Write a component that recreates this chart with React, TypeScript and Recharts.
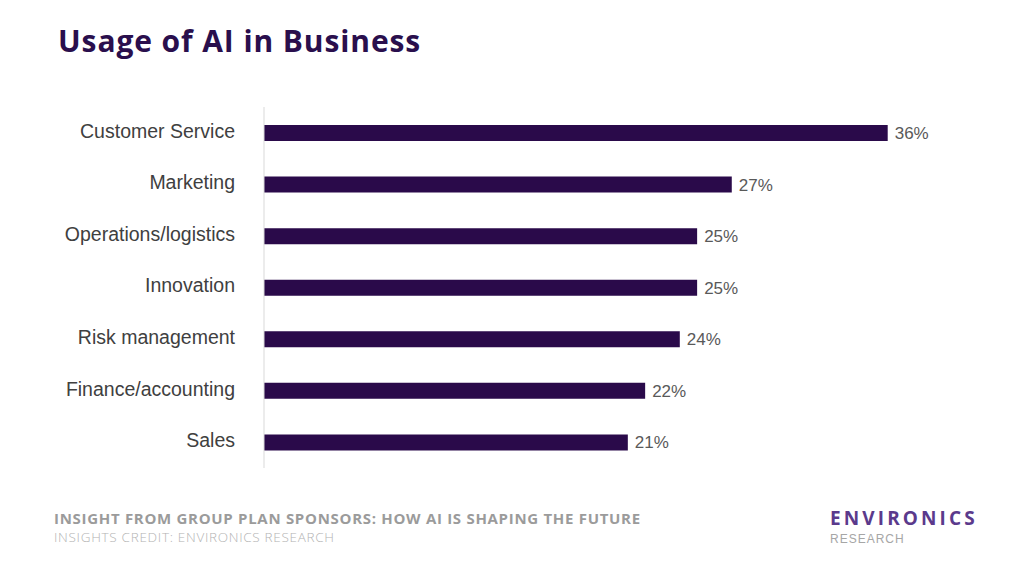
import { BarChart, Bar, XAxis, YAxis, LabelList } from "recharts";

const categories = [
  "Customer Service",
  "Marketing",
  "Operations/logistics",
  "Innovation",
  "Risk management",
  "Finance/accounting",
  "Sales",
];
const usage = [36, 27, 25, 25, 24, 22, 21];

const data = categories.map((name, i) => ({ name, value: usage[i] }));

const CategoryTick = (props: any) => {
  const { x, y, payload } = props;
  return (
    <text
      x={x}
      y={y - 2}
      dy="0.355em"
      textAnchor="end"
      fontSize={19.5}
      fill="#404040"
    >
      {payload.value}
    </text>
  );
};

const App = () => {
  return (
    <div
      style={{
        position: "absolute",
        left: 0,
        top: 0,
        width: 1024,
        height: 576,
        background: "#fff",
        fontFamily: "'Liberation Sans', Arial, sans-serif",
        overflow: "hidden",
      }}
    >
      <div
        style={{
          position: "absolute",
          left: 58,
          top: 20,
          fontFamily: "'Open Sans', sans-serif",
          fontWeight: 700,
          fontSize: 30,
          color: "#2a0f4d",
          letterSpacing: 0.9,
        }}
      >
        Usage of AI in Business
      </div>
      <div style={{ position: "absolute", left: 0, top: 0 }}>
        <BarChart
          width={1024}
          height={576}
          data={data}
          layout="vertical"
          margin={{ top: 107, right: 67, bottom: 108, left: 0 }}
          barSize={16}
        >
          <XAxis type="number" domain={[0, 40]} hide />
          <YAxis
            type="category"
            dataKey="name"
            width={264}
            tickLine={false}
            tickMargin={23}
            axisLine={{ stroke: "#d9d9d9" }}
            tick={<CategoryTick />}
          />
          <Bar dataKey="value" fill="#2a0a4a" isAnimationActive={false}>
            <LabelList
              dataKey="value"
              position="right"
              offset={7}
              formatter={(v: number) => `${v}%`}
              style={{ fontSize: 17, fill: "#595959" }}
            />
          </Bar>
        </BarChart>
      </div>
      <div
        style={{
          position: "absolute",
          left: 54,
          top: 508,
          fontFamily: "'Open Sans', sans-serif",
          fontWeight: 700,
          fontSize: 15,
          color: "#9b9b9b",
          letterSpacing: 0.7,
          whiteSpace: "nowrap",
        }}
      >
        INSIGHT FROM GROUP PLAN SPONSORS: HOW AI IS SHAPING THE FUTURE
      </div>
      <div
        style={{
          position: "absolute",
          left: 54,
          top: 528,
          fontFamily: "'Open Sans', sans-serif",
          fontWeight: 300,
          fontSize: 13.5,
          color: "#b3b3b3",
          letterSpacing: 0.7,
          whiteSpace: "nowrap",
        }}
      >
        INSIGHTS CREDIT: ENVIRONICS RESEARCH
      </div>
      <div
        style={{
          position: "absolute",
          left: 830,
          top: 508,
          fontFamily: "'Open Sans', sans-serif",
          fontWeight: 700,
          fontSize: 19,
          lineHeight: "20px",
          color: "#5b3a8c",
          letterSpacing: 3.1,
        }}
      >
        ENVIRONICS
      </div>
      <div
        style={{
          position: "absolute",
          left: 830,
          top: 533,
          fontFamily: "'Liberation Sans', Arial, sans-serif",
          fontSize: 12,
          lineHeight: "12px",
          color: "#a6a6a6",
          letterSpacing: 1,
        }}
      >
        RESEARCH
      </div>
    </div>
  );
};

export default App;
